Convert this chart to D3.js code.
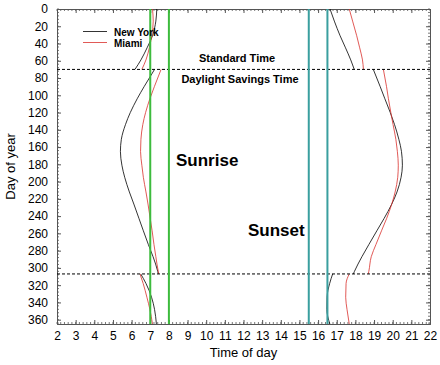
<!DOCTYPE html>
<html>
<head>
<meta charset="utf-8">
<script src="https://cdn.jsdelivr.net/npm/d3@7"></script>
<style>
  body { margin: 0; background: #fff; }
  svg { display: block; font-family: "Liberation Sans", Arial, Helvetica, sans-serif; }
</style>
</head>
<body>
<svg id="chart" width="440" height="365"></svg>
<script>
// days of year where the times were read, split at the clock changes
const daysWinter = [0, 14, 31, 45, 59, 70];
const daysSummer = [70, 90, 104, 120, 134, 151, 165, 181, 195, 212, 226, 243, 257, 273, 287, 304, 307];
const daysFall = [307, 318, 334, 348, 365];

// sunrise, hours
const nySunriseWinter = [7.35, 7.30, 7.12, 6.83, 6.50, 6.18];
const nySunriseSummer = [7.23, 6.67, 6.30, 5.93, 5.67, 5.45, 5.40, 5.48, 5.63, 5.88, 6.12, 6.40, 6.63, 6.90, 7.15, 7.40, 7.43];
const nySunriseFall = [6.49, 6.77, 7.07, 7.23, 7.33];
const miamiSunriseWinter = [7.12, 7.16, 7.08, 6.95, 6.77, 6.55];
const miamiSunriseSummer = [7.58, 7.22, 6.98, 6.75, 6.60, 6.50, 6.48, 6.55, 6.63, 6.77, 6.88, 7.00, 7.10, 7.20, 7.30, 7.43, 7.46];
const miamiSunriseFall = [6.45, 6.62, 6.82, 6.98, 7.12];

// sunset, hours
const nySunsetWinter = [16.64, 16.87, 17.18, 17.47, 17.75, 17.94];
const nySunsetSummer = [18.96, 19.33, 19.58, 19.87, 20.10, 20.33, 20.47, 20.52, 20.45, 20.23, 19.95, 19.53, 19.15, 18.72, 18.35, 17.95, 17.89];
const nySunsetFall = [16.78, 16.62, 16.48, 16.47, 16.63];
const miamiSunsetWinter = [17.67, 17.85, 18.07, 18.23, 18.38, 18.43];
const miamiSunsetSummer = [19.50, 19.67, 19.77, 19.90, 20.02, 20.17, 20.25, 20.30, 20.27, 20.13, 19.95, 19.67, 19.40, 19.10, 18.85, 18.72, 18.69];
const miamiSunsetFall = [17.67, 17.50, 17.48, 17.55, 17.67];

// reference lines
const clockChangeDays = [70, 307];
const sunriseRefHours = [7, 8];
const sunsetRefHours = [15.5, 16.5];

const hourTicks = [2, 3, 4, 5, 6, 7, 8, 9, 10, 11, 12, 13, 14, 15, 16, 17, 18, 19, 20, 21, 22];
const dayTicks = [0, 20, 40, 60, 80, 100, 120, 140, 160, 180, 200, 220, 240, 260, 280, 300, 320, 340, 360];

const series = [
  { name: 'New York', color: '#000', parts: [nySunriseWinter, nySunriseSummer, nySunriseFall, nySunsetWinter, nySunsetSummer, nySunsetFall] },
  { name: 'Miami', color: '#d9302c', parts: [miamiSunriseWinter, miamiSunriseSummer, miamiSunriseFall, miamiSunsetWinter, miamiSunsetSummer, miamiSunsetFall] },
];
const partDays = [daysWinter, daysSummer, daysFall, daysWinter, daysSummer, daysFall];

const svg = d3.select('#chart');
const marginLeft = 57, marginRight = 10, marginTop = 9, marginBottom = 41;
const width = 440, height = 365;

const x = d3.scaleLinear().domain([2, 22]).range([marginLeft, width - marginRight]);
const y = d3.scaleLinear().domain([0, 365]).range([marginTop, height - marginBottom]);

// minor ticks
const hourMinor = d3.range(2, 22.001, 0.2);
const dayMinor = d3.range(0, 365, 4);

const frame = svg.append('g').attr('stroke', '#555').attr('stroke-width', 0.8);
frame.selectAll('.mx').data(hourMinor).join('line')
  .attr('x1', (d) => x(d)).attr('x2', (d) => x(d))
  .attr('y1', y(365)).attr('y2', y(365) - 2);
frame.selectAll('.mxt').data(hourMinor).join('line')
  .attr('x1', (d) => x(d)).attr('x2', (d) => x(d))
  .attr('y1', y(0)).attr('y2', y(0) + 2);
frame.selectAll('.my').data(dayMinor).join('line')
  .attr('y1', (d) => y(d)).attr('y2', (d) => y(d))
  .attr('x1', x(2)).attr('x2', x(2) + 2);
frame.selectAll('.myr').data(dayMinor).join('line')
  .attr('y1', (d) => y(d)).attr('y2', (d) => y(d))
  .attr('x1', x(22)).attr('x2', x(22) - 2);

// axes with inward ticks
svg.append('g')
  .attr('transform', `translate(0,${y(365)})`)
  .call(d3.axisBottom(x).tickValues(hourTicks).tickSize(-4).tickPadding(7).tickFormat(d3.format('d')))
  .call((g) => g.select('.domain').attr('stroke', '#555'))
  .call((g) => g.selectAll('.tick line').attr('stroke', '#555'))
  .call((g) => g.selectAll('.tick text').attr('font-size', 12).attr('fill', '#000'));
svg.append('g')
  .attr('transform', `translate(0,${y(0)})`)
  .call(d3.axisTop(x).tickValues(hourTicks).tickSize(-4).tickFormat(''))
  .call((g) => g.select('.domain').attr('stroke', '#555'))
  .call((g) => g.selectAll('.tick line').attr('stroke', '#555'));
svg.append('g')
  .attr('transform', `translate(${x(2)},0)`)
  .call(d3.axisLeft(y).tickValues(dayTicks).tickSize(-4).tickPadding(9).tickFormat(d3.format('d')))
  .call((g) => g.select('.domain').attr('stroke', '#555'))
  .call((g) => g.selectAll('.tick line').attr('stroke', '#555'))
  .call((g) => g.selectAll('.tick text').attr('font-size', 12).attr('fill', '#000'));
svg.append('g')
  .attr('transform', `translate(${x(22)},0)`)
  .call(d3.axisRight(y).tickValues(dayTicks).tickSize(-4).tickFormat(''))
  .call((g) => g.select('.domain').attr('stroke', '#555'))
  .call((g) => g.selectAll('.tick line').attr('stroke', '#555'));

// curves
const line = d3.line()
  .x((d) => x(d[1]))
  .y((d) => y(d[0]))
  .curve(d3.curveMonotoneY);

series.forEach((s) => {
  s.parts.forEach((vals, i) => {
    const pts = partDays[i].map((day, j) => [day, vals[j]]);
    svg.append('path')
      .attr('d', line(pts))
      .attr('fill', 'none')
      .attr('stroke', s.color)
      .attr('stroke-width', 0.8);
  });
});

// dashed clock change lines
svg.append('g').selectAll('line').data(clockChangeDays).join('line')
  .attr('x1', x(2)).attr('x2', x(22))
  .attr('y1', (d) => y(d)).attr('y2', (d) => y(d))
  .attr('stroke', '#000').attr('stroke-width', 1)
  .attr('stroke-dasharray', '3,2');

// vertical reference lines
svg.append('g').selectAll('line').data(sunriseRefHours).join('line')
  .attr('x1', (d) => x(d)).attr('x2', (d) => x(d))
  .attr('y1', y(0)).attr('y2', y(365))
  .attr('stroke', '#3dbb3d').attr('stroke-width', 2);
svg.append('g').selectAll('line').data(sunsetRefHours).join('line')
  .attr('x1', (d) => x(d)).attr('x2', (d) => x(d))
  .attr('y1', y(0)).attr('y2', y(365))
  .attr('stroke', '#3a9f9f').attr('stroke-width', 2);

// legend
const legend = svg.append('g').attr('font-size', 10).attr('font-weight', 'bold');
series.forEach((s, i) => {
  const ly = 31.5 + i * 11;
  legend.append('line')
    .attr('x1', 83).attr('x2', 107)
    .attr('y1', ly).attr('y2', ly)
    .attr('stroke', s.color).attr('stroke-width', 0.8);
  legend.append('text')
    .attr('x', 114).attr('y', ly + 4)
    .text(s.name);
});

// annotations
svg.append('text').attr('x', 237).attr('y', 62).attr('text-anchor', 'middle')
  .attr('font-size', 11).attr('font-weight', 'bold').text('Standard Time');
svg.append('text').attr('x', 240).attr('y', 83).attr('text-anchor', 'middle')
  .attr('font-size', 11).attr('font-weight', 'bold').text('Daylight Savings Time');
svg.append('text').attr('x', 176).attr('y', 166)
  .attr('font-size', 17).attr('font-weight', 'bold').text('Sunrise');
svg.append('text').attr('x', 248).attr('y', 236)
  .attr('font-size', 17).attr('font-weight', 'bold').text('Sunset');

// axis titles
svg.append('text').attr('x', (x(2) + x(22)) / 2).attr('y', 357)
  .attr('text-anchor', 'middle').attr('font-size', 13).text('Time of day');
svg.append('text')
  .attr('transform', `translate(15,${(y(0) + y(365)) / 2}) rotate(-90)`)
  .attr('text-anchor', 'middle').attr('font-size', 13).text('Day of year');
</script>
</body>
</html>
